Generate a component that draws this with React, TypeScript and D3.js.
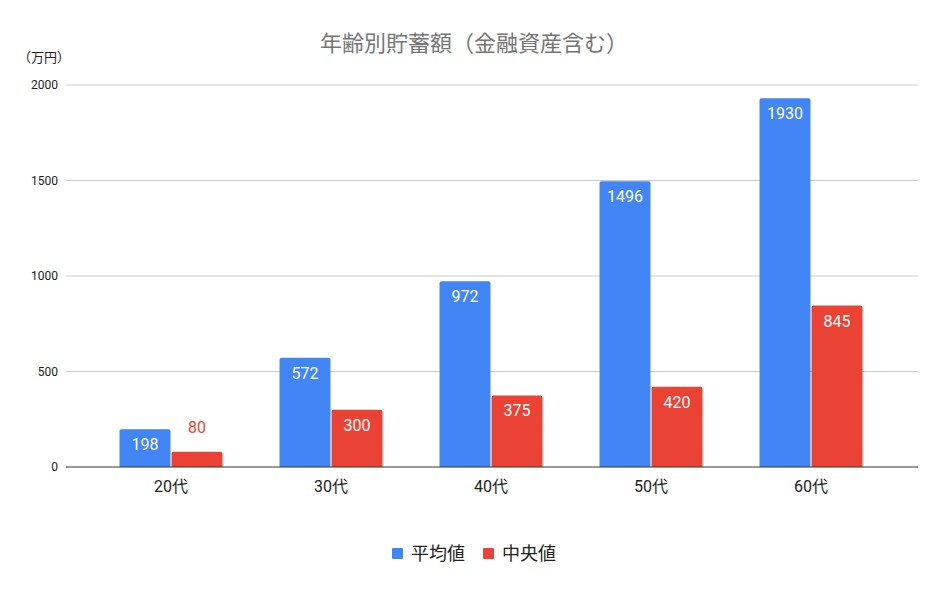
import * as React from "react";
import * as d3 from "d3";

const categories = ["20代", "30代", "40代", "50代", "60代"];
const seriesNames = ["平均値", "中央値"];
const averageValues = [198, 572, 972, 1496, 1930];
const medianValues = [80, 300, 375, 420, 845];
const yTicks = [0, 500, 1000, 1500, 2000];

const colors = ["#4285F4", "#EA4335"];
const W = 948;
const H = 595;
const font = "Roboto, 'Noto Sans CJK JP', sans-serif";

// top-rounded bar path
function barPath(x: number, y: number, w: number, h: number, r: number) {
  const rr = Math.min(r, h / 2, w / 2);
  return `M${x},${y + h}V${y + rr}Q${x},${y} ${x + rr},${y}H${x + w - rr}Q${x + w},${y} ${x + w},${y + rr}V${y + h}Z`;
}

export default function App() {
  const plotLeft = 66;
  const plotRight = 918;
  const groupW = 103;
  const y = d3.scaleLinear().domain([0, 2000]).range([467, 85]);
  const x = d3.scaleBand().domain(categories).range([91, 891]).paddingInner(0);
  const inner = d3.scaleBand().domain(seriesNames).range([0, groupW]).paddingInner(0.02);
  const groupOffset = (x.bandwidth() - groupW) / 2;
  const series = [averageValues, medianValues];

  return (
    <svg width={W} height={H} style={{ position: "absolute", left: 0, top: 0 }}>
      <rect width={W} height={H} fill="#fff" />
      <text x={474} y={51} textAnchor="middle" fontFamily={font} fontSize={22} fill="#757575">
        年齢別貯蓄額（金融資産含む）
      </text>
      <text x={70} y={62} textAnchor="end" fontFamily={font} fontSize={13} fill="#222">
        （万円）
      </text>
      {yTicks.map((t) => (
        <g key={t}>
          {t !== 0 && (
            <line x1={plotLeft} x2={plotRight} y1={y(t)} y2={y(t)} stroke="#cccccc" strokeWidth={1} />
          )}
          <text x={58} y={y(t) + 4} textAnchor="end" fontFamily={font} fontSize={12} fill="#222">
            {t}
          </text>
        </g>
      ))}
      {categories.map((c, i) => (
        <g key={c} transform={`translate(${(x(c) as number) + groupOffset},0)`}>
          {series.map((vals, s) => {
            const v = vals[i];
            const bx = inner(seriesNames[s]) as number;
            const bw = inner.bandwidth();
            const by = y(v);
            const bh = y(0) - by;
            const inside = bh > 28;
            return (
              <g key={s}>
                <path d={barPath(bx, by, bw, bh, 2)} fill={colors[s]} />
                <text
                  x={bx + bw / 2}
                  y={inside ? by + 21 : by - 19}
                  textAnchor="middle"
                  fontFamily={font}
                  fontSize={16}
                  fill={inside ? "#fff" : colors[s]}
                >
                  {v}
                </text>
              </g>
            );
          })}
          <text
            x={groupW / 2}
            y={492}
            textAnchor="middle"
            fontFamily={font}
            fontSize={16}
            fill="#222"
          >
            {c}
          </text>
        </g>
      ))}
      <line x1={plotLeft} x2={plotRight} y1={y(0)} y2={y(0)} stroke="#333" strokeWidth={1} />
      <g>
        <rect x={392} y={548} width={11} height={11} rx={1} fill={colors[0]} />
        <text x={411} y={560} fontFamily={font} fontSize={18} fill="#222">
          {seriesNames[0]}
        </text>
        <rect x={483} y={548} width={11} height={11} rx={1} fill={colors[1]} />
        <text x={502} y={560} fontFamily={font} fontSize={18} fill="#222">
          {seriesNames[1]}
        </text>
      </g>
    </svg>
  );
}
